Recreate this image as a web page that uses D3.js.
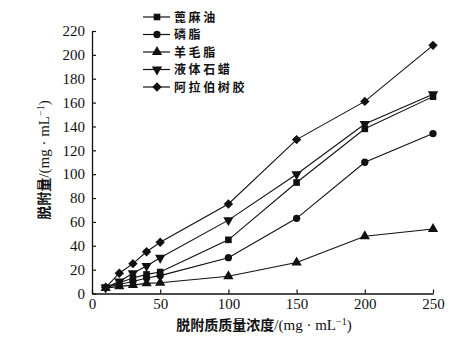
<!DOCTYPE html>
<html><head><meta charset="utf-8">
<script src="https://cdn.jsdelivr.net/npm/d3@7/dist/d3.min.js"></script>
<style>body{margin:0;background:#fff}svg{display:block}</style>
</head><body>
<svg id="c" width="476" height="338"></svg>
<script>
const concentrations = [10, 20, 30, 40, 50, 100, 150, 200, 250];
const seriesNames = ["蓖麻油", "磷脂", "羊毛脂", "液体石蜡", "阿拉伯树胶"];
const castorOil = [5, 9, 13, 16, 18, 45, 93, 138, 165];
const lecithin = [5, 7.5, 10, 13, 15, 30, 63, 110, 134];
const lanolin = [4.5, 6, 7, 8.5, 9, 14.5, 26, 48, 54];
const liquidParaffin = [5, 10, 17, 23, 30, 61.5, 100, 142, 167];
const gumArabic = [5, 17, 25, 35, 43, 75, 129, 161, 208];
const xTicks = [0, 50, 100, 150, 200, 250];
const yTicks = [0, 20, 40, 60, 80, 100, 120, 140, 160, 180, 200, 220];
const xTitle = "脱附质质量浓度/(mg · mL";
const yTitle = "脱附量/(mg · mL";

const seriesValues = [castorOil, lecithin, lanolin, liquidParaffin, gumArabic];
const markerKinds = ["square", "circle", "triangle", "triangleDown", "diamond"];

const svg = d3.select("#c");
const ink = "#111";
const x = d3.scaleLinear().domain([0, 250]).range([92, 433]);
const y = d3.scaleLinear().domain([0, 220]).range([293.5, 31]);

function markerPath(kind) {
  switch (kind) {
    case "square": return d3.symbol(d3.symbolSquare, 44)();
    case "circle": return d3.symbol(d3.symbolCircle, 42)();
    case "triangle": return d3.symbol(d3.symbolTriangle, 46)();
    case "triangleDown": return d3.symbol(d3.symbolTriangle, 46)();
    case "diamond": return d3.symbol(d3.symbolSquare, 44)();
  }
}
function markerRot(kind) {
  return kind === "triangleDown" ? 180 : kind === "diamond" ? 45 : 0;
}

// axes
const yAxis = d3.axisLeft(y).tickValues(yTicks).tickSizeInner(-4).tickSizeOuter(0).tickPadding(7);
const xAxis = d3.axisBottom(x).tickValues(xTicks).tickSizeInner(-4).tickSizeOuter(0).tickPadding(5);
const gy = svg.append("g").attr("transform", `translate(${x(0)},0)`).call(yAxis);
const gx = svg.append("g").attr("transform", `translate(0,${y(0)})`).call(xAxis);
[gx, gy].forEach(g => {
  g.select(".domain").attr("stroke", ink).attr("stroke-width", 1.3);
  g.selectAll(".tick line").attr("stroke", ink).attr("stroke-width", 1.2);
  g.selectAll(".tick text").attr("fill", ink)
    .style("font-family", "'Liberation Serif', 'DejaVu Serif', serif").style("font-size", "15px");
});

// lines and markers
const line = d3.line().x((d, i) => x(concentrations[i])).y(d => y(d));
seriesValues.forEach((vals, s) => {
  svg.append("path").attr("d", line(vals)).attr("fill", "none")
    .attr("stroke", ink).attr("stroke-width", 1.1);
});
seriesValues.forEach((vals, s) => {
  const k = markerKinds[s];
  svg.append("g").selectAll("path").data(vals).join("path")
    .attr("d", markerPath(k))
    .attr("transform", (d, i) => `translate(${x(concentrations[i])},${y(d)}) rotate(${markerRot(k)})`)
    .attr("fill", ink);
});

// legend
const lg = svg.append("g");
seriesNames.forEach((name, s) => {
  const ly = 17 + s * 17.5;
  lg.append("line").attr("x1", 143).attr("x2", 170).attr("y1", ly).attr("y2", ly)
    .attr("stroke", ink).attr("stroke-width", 1.2);
  const k = markerKinds[s];
  lg.append("path").attr("d", markerPath(k))
    .attr("transform", `translate(157,${ly}) rotate(${markerRot(k)})`).attr("fill", ink);
  lg.append("text").attr("x", 174).attr("y", ly).attr("dy", "0.38em")
    .style("font-family", "'Noto Sans CJK SC', sans-serif").style("font-size", "12px")
    .style("letter-spacing", "2.6px")
    .style("font-weight", "bold").attr("fill", ink).text(name);
});

// titles
function titleText(sel, label) {
  sel.style("font-family", "'Noto Sans CJK SC', 'Liberation Serif', serif").style("font-size", "14px").attr("fill", ink);
  const cjk = label.split("/")[0];
  const rest = "/" + label.split("/").slice(1).join("/");
  sel.append("tspan").style("font-weight", "bold").text(cjk);
  sel.append("tspan").style("font-family", "'Liberation Serif', serif").style("font-size", "15px").text(rest);
  sel.append("tspan").style("font-family", "'Liberation Serif', serif").style("font-size", "10px").attr("dy", "-5").text("−1");
  sel.append("tspan").style("font-family", "'Liberation Serif', serif").style("font-size", "15px").attr("dy", "5").text(")");
}
const xt = svg.append("text").attr("x", 264).attr("y", 330).attr("text-anchor", "middle");
titleText(xt, xTitle);
const yt = svg.append("text").attr("transform", "translate(49,160) rotate(-90)").attr("text-anchor", "middle");
titleText(yt, yTitle);
</script>
</body></html>
